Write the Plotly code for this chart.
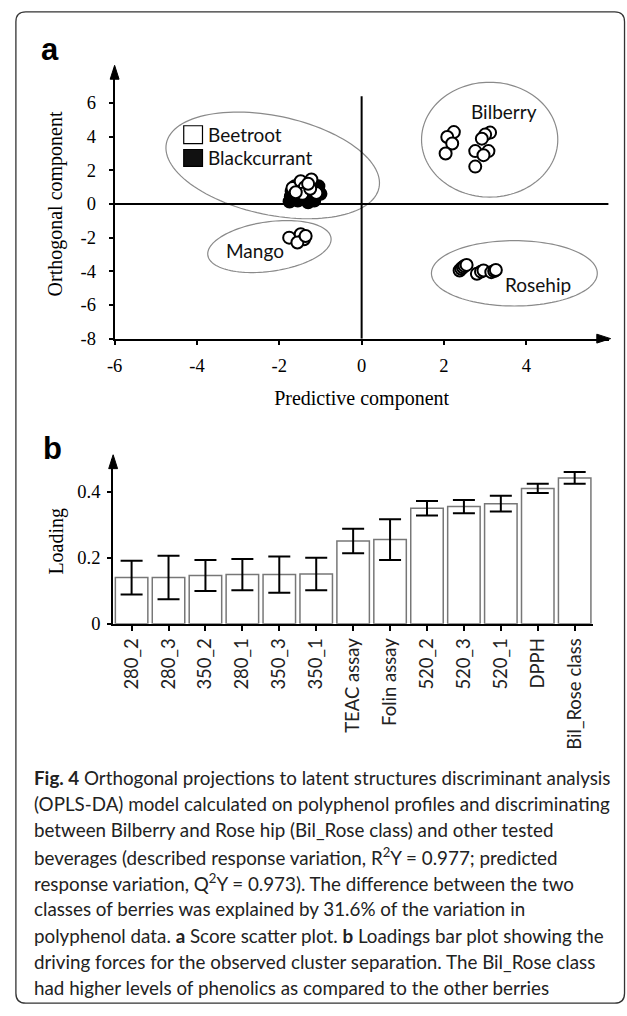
import plotly.graph_objects as go
import numpy as np

W, H = 627, 1016

# ---------------- Panel a: OPLS-DA score scatter ----------------
beetroot_x = [-1.68, -1.48, -1.22, -1.38, -1.10, -1.44, -1.25, -1.60, -1.30]
beetroot_y = [0.95, 1.35, 1.45, 1.00, 0.65, 0.60, 0.90, 0.70, 1.20]
blackcurrant_x = [-1.75, -1.72, -1.70, -1.62, -1.05, -1.00, -1.15, -1.30, -1.55, -1.20]
blackcurrant_y = [0.15, 0.45, 0.75, 1.05, 1.05, 0.60, 0.20, 0.10, 0.20, 0.85]
mango_x = [-1.76, -1.48, -1.40, -1.56, -1.36]
mango_y = [-2.00, -1.80, -2.10, -2.29, -1.90]
bilberry_x = [2.24, 2.08, 2.20, 2.04, 3.12, 3.00, 2.92, 3.08, 2.76, 2.96, 2.76]
bilberry_y = [4.27, 3.98, 3.59, 3.00, 4.24, 4.12, 3.88, 3.14, 3.14, 2.90, 2.22]
rosehip_x = [2.38, 2.42, 2.46, 2.50, 2.55, 2.80, 2.90, 2.96, 3.15, 3.22, 3.26]
rosehip_y = [-3.95, -3.85, -3.76, -3.68, -3.62, -4.15, -4.02, -3.95, -4.05, -3.98, -3.92]

score_xticks = [-6, -4, -2, 0, 2, 4]
score_xticklabels = ["-6", "-4", "-2", "0", "2", "4"]
score_yticks = [-8, -6, -4, -2, 0, 2, 4, 6]
score_yticklabels = ["-8", "-6", "-4", "-2", "0", "2", "4", "6"]

# ---------------- Panel b: loadings ----------------
variables = ["280_2", "280_3", "350_2", "280_1", "350_3", "350_1", "TEAC assay",
             "Folin assay", "520_2", "520_3", "520_1", "DPPH", "Bil_Rose class"]
loading = [0.140, 0.140, 0.146, 0.149, 0.149, 0.151, 0.251, 0.255,
           0.350, 0.355, 0.364, 0.410, 0.442]
loading_err = [0.051, 0.066, 0.047, 0.047, 0.055, 0.049, 0.037, 0.062,
               0.022, 0.020, 0.024, 0.014, 0.018]
loading_yticks = [0, 0.2, 0.4]
loading_yticklabels = ["0", "0.2", "0.4"]

caption_lines = [
    "<b>Fig. 4</b> Orthogonal projections to latent structures discriminant analysis",
    "(OPLS-DA) model calculated on polyphenol profiles and discriminating",
    "between Bilberry and Rose hip (Bil_Rose class) and other tested",
    "beverages (described response variation, R<sup>2</sup>Y = 0.977; predicted",
    "response variation, Q<sup>2</sup>Y = 0.973). The difference between the two",
    "classes of berries was explained by 31.6% of the variation in",
    "polyphenol data. <b>a</b> Score scatter plot. <b>b</b> Loadings bar plot showing the",
    "driving forces for the observed cluster separation. The Bil_Rose class",
    "had higher levels of phenolics as compared to the other berries",
]

SERIF = "Liberation Serif"
SANS = "Lato"


def px(x):
    return x / W


def py(y):
    return 1 - y / H


# axis geometry (pixels)
A_X0, A_X1 = 108, 608.4
A_Y0, A_Y1 = 342, 70
B_X0, B_X1 = 106.5, 592.7
B_Y0, B_Y1 = 630, 463.3

XR = [-6, 6]
YR = [-8, 8]
SX = (A_X1 - A_X0) / (XR[1] - XR[0])
SY = (A_Y0 - A_Y1) / (YR[1] - YR[0])
BR_X = [-0.5, 12.5]
BR_Y = [0, 0.5]

fig = go.Figure()

mk_white = dict(size=12, color="white", line=dict(color="black", width=2))
mk_black = dict(size=12, color="black", line=dict(color="black", width=2))

fig.add_trace(go.Scatter(x=blackcurrant_x, y=blackcurrant_y, mode="markers", name="Blackcurrant",
                         marker=mk_black, xaxis="x", yaxis="y", showlegend=False))
fig.add_trace(go.Scatter(x=beetroot_x, y=beetroot_y, mode="markers", name="Beetroot",
                         marker=mk_white, xaxis="x", yaxis="y", showlegend=False))
for nm, xs, ys in [("Mango", mango_x, mango_y), ("Bilberry", bilberry_x, bilberry_y),
                   ("Rosehip", rosehip_x, rosehip_y)]:
    fig.add_trace(go.Scatter(x=xs, y=ys, mode="markers", name=nm, marker=mk_white,
                             xaxis="x", yaxis="y", showlegend=False))

fig.add_trace(go.Bar(x=variables, y=loading, xaxis="x2", yaxis="y2", width=0.88,
                     marker=dict(color="white", line=dict(color="#777777", width=1.5)),
                     error_y=dict(type="data", array=loading_err, color="black",
                                  thickness=2, width=11),
                     showlegend=False))

shapes = []


def ellipse_path(cx, cy, a, b, ang):
    """cx, cy in data units; a, b semi-axes in pixels; ang in degrees (screen, clockwise)."""
    t = np.linspace(0, 2 * np.pi, 121)
    th = np.radians(ang)
    dx = a * np.cos(t) * np.cos(th) - b * np.sin(t) * np.sin(th)
    dy = a * np.cos(t) * np.sin(th) + b * np.sin(t) * np.cos(th)
    xs = cx + dx / SX
    ys = cy - dy / SY
    pts = " L ".join(f"{x:.4f},{y:.4f}" for x, y in zip(xs, ys))
    return "M " + pts + " Z"


# group ellipses: (cx, cy, a_px, b_px, angle)
ellipses = [(-2.16, 2.29, 110, 50, 11.8),
            (-2.24, -2.53, 63, 25, -8),
            (3.11, 3.82, 69, 58, 0),
            (3.71, -4.12, 84, 33, 0)]
for e in ellipses:
    shapes.append(dict(type="path", xref="x", yref="y", path=ellipse_path(*e),
                       line=dict(color="#8a8a8a", width=1.2), layer="below"))

# zero reference lines
shapes.append(dict(type="line", xref="x", yref="y", x0=-6, x1=6, y0=0, y1=0,
                   line=dict(color="black", width=2), layer="below"))
shapes.append(dict(type="line", xref="x", yref="y", x0=0, x1=0, y0=-8, y1=6.4,
                   line=dict(color="black", width=2), layer="below"))


# arrowheads at the axis ends (paper coordinates, tips at the axis ends)
def arrow_up(tx, ty, hw=4.5, ln=14):
    return dict(type="path", xref="paper", yref="paper", fillcolor="black",
                line=dict(color="black", width=1),
                path=(f"M {px(tx - hw)},{py(ty + ln)} L {px(tx)},{py(ty)} "
                      f"L {px(tx + hw)},{py(ty + ln)} Z"))


def arrow_right(tx, ty, hw=4.5, ln=14):
    return dict(type="path", xref="paper", yref="paper", fillcolor="black",
                line=dict(color="black", width=1),
                path=(f"M {px(tx - ln)},{py(ty - hw)} L {px(tx)},{py(ty)} "
                      f"L {px(tx - ln)},{py(ty + hw)} Z"))


shapes.append(arrow_up(A_X0, A_Y1 - 4))
shapes.append(arrow_right(A_X1 + 2, A_Y0))
shapes.append(arrow_up(B_X0, B_Y1 - 4))

# legend squares
shapes.append(dict(type="rect", xref="paper", yref="paper", x0=px(178), x1=px(197),
                   y0=py(145), y1=py(127), line=dict(color="black", width=1.2),
                   fillcolor="white"))
shapes.append(dict(type="rect", xref="paper", yref="paper", x0=px(178), x1=px(197),
                   y0=py(168), y1=py(151), line=dict(color="black", width=1.2),
                   fillcolor="#111111"))

# rounded frame
fx0, fx1, fy0, fy1, r = 8, 624.5, 12, 1013, 10
frame = (f"M {px(fx0+r)},{py(fy0)} L {px(fx1-r)},{py(fy0)} "
         f"Q {px(fx1)},{py(fy0)} {px(fx1)},{py(fy0+r)} L {px(fx1)},{py(fy1-r)} "
         f"Q {px(fx1)},{py(fy1)} {px(fx1-r)},{py(fy1)} L {px(fx0+r)},{py(fy1)} "
         f"Q {px(fx0)},{py(fy1)} {px(fx0)},{py(fy1-r)} L {px(fx0)},{py(fy0+r)} "
         f"Q {px(fx0)},{py(fy0)} {px(fx0+r)},{py(fy0)} Z")
shapes.append(dict(type="path", xref="paper", yref="paper", path=frame,
                   line=dict(color="#333333", width=1.3)))

annotations = []
lab_font = dict(family=SANS, size=19, color="#111111")
annotations.append(dict(x=px(201), y=py(136), xref="paper", yref="paper", text="Beetroot",
                        showarrow=False, xanchor="left", yanchor="middle", font=lab_font))
annotations.append(dict(x=px(201), y=py(159), xref="paper", yref="paper", text="Blackcurrant",
                        showarrow=False, xanchor="left", yanchor="middle", font=lab_font))
for txt, x, y in [("Bilberry", 3.45, 5.47), ("Rosehip", 4.29, -4.76), ("Mango", -2.59, -2.76)]:
    annotations.append(dict(x=x, y=y, xref="x", yref="y", text=txt, showarrow=False,
                            xanchor="center", yanchor="middle", font=lab_font))

# panel letters
letter_font = dict(family="Liberation Sans", size=31, color="black")
annotations.append(dict(x=px(43), y=py(50), xref="paper", yref="paper", text="<b>a</b>",
                        showarrow=False, xanchor="center", yanchor="middle", font=letter_font))
annotations.append(dict(x=px(45), y=py(453), xref="paper", yref="paper", text="<b>b</b>",
                        showarrow=False, xanchor="center", yanchor="middle", font=letter_font))

# caption
for i, line in enumerate(caption_lines):
    annotations.append(dict(x=px(24), y=py(785 + 26.6 * i), xref="paper", yref="paper",
                            text=line, showarrow=False, xanchor="left", yanchor="middle",
                            font=dict(family=SANS, size=18.8, color="#222222")))

tick_font = dict(family=SERIF, size=18.5, color="black")
title_font = dict(family=SERIF, size=20, color="black")

fig.update_layout(
    width=W, height=H, autosize=False,
    margin=dict(l=0, r=0, t=0, b=0),
    paper_bgcolor="white", plot_bgcolor="rgba(0,0,0,0)",
    showlegend=False,
    shapes=shapes, annotations=annotations,
    xaxis=dict(domain=[px(A_X0), px(A_X1)], range=XR, tickvals=score_xticks,
               ticktext=score_xticklabels, ticks="outside", ticklen=4, tickwidth=1.5,
               tickcolor="black", showline=True, linecolor="black", linewidth=2,
               showgrid=False, zeroline=False, tickfont=tick_font, anchor="y",
               ticklabelstandoff=5,
               title=dict(text="Predictive component", font=title_font, standoff=16)),
    yaxis=dict(domain=[py(A_Y0), py(A_Y1)], range=YR, tickvals=score_yticks,
               ticktext=score_yticklabels, ticks="outside", ticklen=4, tickwidth=1.5,
               tickcolor="black", showline=True, linecolor="black", linewidth=2,
               showgrid=False, zeroline=False, tickfont=tick_font, anchor="x",
               ticklabelstandoff=9,
               title=dict(text="Orthogonal component", font=title_font, standoff=12)),
    xaxis2=dict(domain=[px(B_X0), px(B_X1)], range=BR_X, type="category",
                ticks="outside", ticklen=5, tickwidth=1.5, tickcolor="black",
                showline=True, linecolor="black", linewidth=2, showgrid=False,
                tickangle=-90, tickfont=dict(family=SANS, size=18.5, color="#222222"),
                anchor="y2"),
    yaxis2=dict(domain=[py(B_Y0), py(B_Y1)], range=BR_Y, tickvals=loading_yticks,
                ticktext=loading_yticklabels, ticks="outside", ticklen=4, tickwidth=1.5,
                tickcolor="black", showline=True, linecolor="black", linewidth=2,
                showgrid=False, zeroline=False, tickfont=tick_font, anchor="x2",
                ticklabelstandoff=3,
                title=dict(text="Loading", font=title_font, standoff=8)),
)

fig.write_html("out.html")
